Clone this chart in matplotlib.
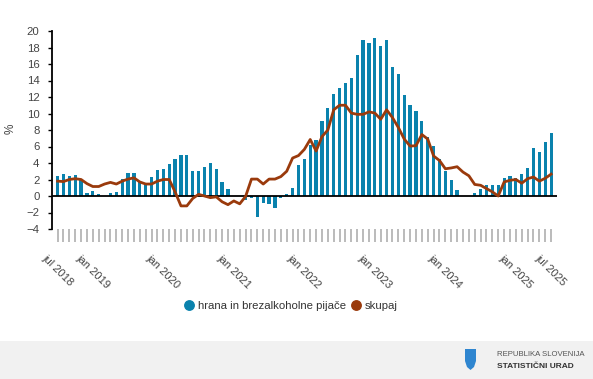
import matplotlib
matplotlib.use("Agg")
import matplotlib.pyplot as plt
from matplotlib.lines import Line2D
from matplotlib.patches import Rectangle, Polygon
import numpy as np
import pandas as pd

plt.rcParams['font.family'] = ['Liberation Sans', 'DejaVu Sans']

# ---- data ----
months = pd.period_range('2018-07', '2025-07', freq='M')

food = [2.4, 2.7, 2.4, 2.6, 1.9, 0.4, 0.6, 0.3, 0.0, 0.4, 0.5, 2.1,
        2.8, 2.8, 1.8, 1.5, 2.3, 3.2, 3.3, 3.9, 4.5, 5.0, 5.0, 3.0,
        3.0, 3.5, 4.0, 3.3, 1.7, 0.9, 0.0, 0.0, -0.5, -0.3, -2.5, -0.8,
        -1.0, -1.4, -0.3, 0.2, 1.0, 3.8, 4.5, 6.2, 6.8, 9.1, 10.7, 12.4,
        13.1, 13.7, 14.3, 17.1, 18.9, 18.5, 19.1, 18.2, 18.9, 15.6, 14.8, 12.2,
        11.0, 10.3, 9.1, 7.2, 6.1, 4.5, 3.0, 1.9, 0.7, 0.0, 0.0, 0.4,
        0.9, 1.3, 1.3, 1.3, 2.2, 2.4, 2.2, 2.7, 3.4, 5.8, 5.3, 6.5,
        7.6]

total = [1.8, 1.75, 2.0, 2.1, 2.0, 1.5, 1.15, 1.15, 1.45, 1.65, 1.45, 1.8,
         2.05, 2.2, 1.7, 1.45, 1.45, 1.8, 2.0, 2.0, 0.5, -1.2, -1.2, -0.3,
         0.2, 0.0, -0.2, -0.1, -0.7, -1.05, -0.6, -0.95, -0.05, 2.05, 2.05, 1.45,
         2.05, 2.05, 2.35, 3.0, 4.6, 4.9, 5.65, 6.85, 5.45, 7.2, 8.0, 10.45,
         11.0, 11.0, 10.05, 9.9, 9.9, 10.2, 10.05, 9.3, 10.45, 9.5, 8.3, 6.9,
         6.05, 6.1, 7.45, 6.9, 4.85, 4.3, 3.3, 3.4, 3.55, 2.9, 2.45, 1.4,
         1.3, 0.9, 0.5, 0.0, 1.7, 1.9, 2.0, 1.55, 2.1, 2.3, 1.8, 2.15,
         2.65]

label_months = ['2018-07', '2019-01', '2020-01', '2021-01', '2022-01',
                '2023-01', '2024-01', '2025-01', '2025-07']
label_texts = ['jul 2018', 'jan 2019', 'jan 2020', 'jan 2021', 'jan 2022',
               'jan 2023', 'jan 2024', 'jan 2025', 'jul 2025']

series_names = ['hrana in brezalkoholne pijače', 'skupaj']
BAR = '#0a82ad'
LINE = '#9a3a0c'

# ---- figure ----
W, H = 593, 379
fig = plt.figure(figsize=(W / 100, H / 100), dpi=100)
fig.patch.set_facecolor('white')

L, R, T, B = 51.7, 557, 31, 229
ax = fig.add_axes([L / W, 1 - B / H, (R - L) / W, (B - T) / H])

x = np.arange(len(months))
ax.bar(x, food, width=0.55, color=BAR, zorder=2)
ax.axhline(0, color='black', lw=1.3, zorder=3)
ax.plot(x, total, color=LINE, lw=2.0, zorder=4, solid_joinstyle='round')

ax.set_xlim(-1, len(months))
ax.set_ylim(-4, 20)
ax.set_yticks(np.arange(-4, 21, 2))
ax.tick_params(axis='y', direction='out', length=3, width=1, color='black',
               labelsize=8.2, labelcolor='#444444', pad=5.8)

for s in ['top', 'right', 'bottom']:
    ax.spines[s].set_visible(False)
ax.spines['left'].set_color('black')
ax.spines['left'].set_linewidth(1.3)

ax.set_xticks(x)
month_str = [str(m) for m in months]
labels = [''] * len(months)
for m, t in zip(label_months, label_texts):
    labels[month_str.index(m)] = t
ax.set_xticklabels(labels)
ax.tick_params(axis='x', direction='out', length=9.5, width=1.1, color='#a8a8a8',
               labelsize=8, labelcolor='#444444', pad=7.5)
for lab in ax.get_xticklabels():
    lab.set_rotation(-45)
    lab.set_ha('center')

fig.text(11 / W, 1 - 129 / H, '%', fontsize=8.5, color='#444444',
         rotation=90, ha='center', va='center')

# legend
handles = [Line2D([], [], marker='o', linestyle='none', markersize=6.8,
                  markerfacecolor=BAR, markeredgecolor=BAR),
           Line2D([], [], marker='o', linestyle='none', markersize=6.8,
                  markerfacecolor=LINE, markeredgecolor=LINE)]
fig.legend(handles, series_names, loc='center', bbox_to_anchor=(291 / W, 1 - 306 / H),
           ncol=2, frameon=False, fontsize=8.2, handlelength=0.8,
           handletextpad=0.35, columnspacing=0.5, labelcolor='#333333')

# footer band
fig.patches.append(Rectangle((0, 0), 1, (H - 341) / H, transform=fig.transFigure,
                             facecolor='#f1f1f1', edgecolor='none', zorder=0))
# shield logo (decorative)
sx, sy0, sy1, sw = 470.5, 349, 370, 11
shield = Polygon([(sx - sw / 2, sy0), (sx + sw / 2, sy0), (sx + sw / 2, sy0 + 12),
                  (sx + sw / 2 - 2, sy1 - 3), (sx, sy1), (sx - sw / 2 + 2, sy1 - 3),
                  (sx - sw / 2, sy0 + 12)],
                 closed=True, transform=None, facecolor='#2f86d0', edgecolor='none')
shield.set_xy([(px, H - py) for px, py in shield.get_xy()])
fig.patches.append(shield)
fig.text(497 / W, 1 - 355 / H, 'REPUBLIKA SLOVENIJA', fontsize=5.6, color='#555555',
         va='center', ha='left')
fig.text(497 / W, 1 - 367 / H, 'STATISTIČNI URAD', fontsize=6.0, color='#333333',
         va='center', ha='left', fontweight='bold')

fig.savefig('out.png', dpi=100)
